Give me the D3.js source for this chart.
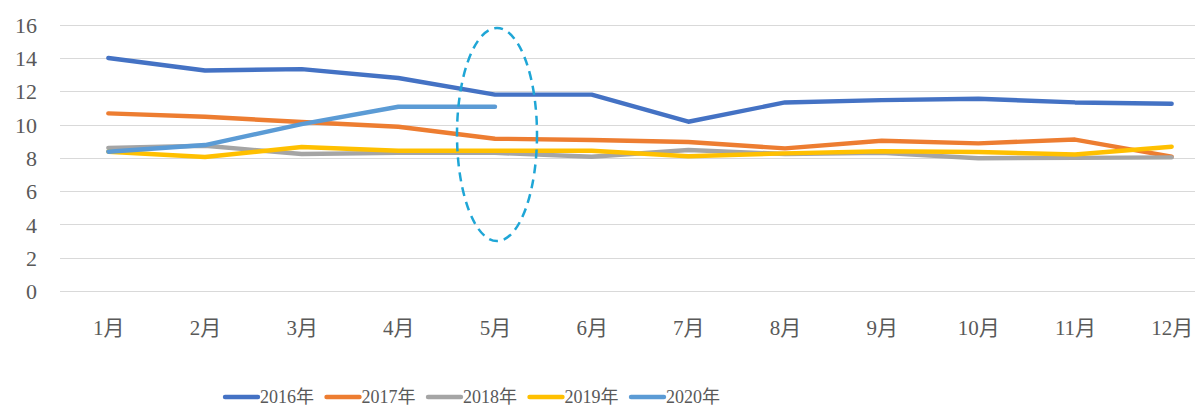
<!DOCTYPE html>
<html>
<head>
<meta charset="utf-8">
<script src="https://cdn.jsdelivr.net/npm/d3@7"></script>
<style>
  body { margin: 0; background: #fff; }
  svg { display: block; }
  text { font-family: "Liberation Serif", "Noto Sans CJK SC", serif; fill: #595959; }
</style>
</head>
<body>
<svg id="chart" width="1195" height="407"></svg>
<script>
// months on the x axis
var months = ["1月", "2月", "3月", "4月", "5月", "6月", "7月", "8月", "9月", "10月", "11月", "12月"];
var yTicks = [0, 2, 4, 6, 8, 10, 12, 14, 16];

// series values
var y2016 = [14.0, 13.25, 13.33, 12.8, 11.8, 11.8, 10.17, 11.33, 11.47, 11.55, 11.33, 11.25];
var y2017 = [10.67, 10.47, 10.15, 9.87, 9.15, 9.07, 8.95, 8.57, 9.03, 8.87, 9.1, 8.07];
var y2018 = [8.6, 8.73, 8.23, 8.3, 8.3, 8.07, 8.47, 8.23, 8.3, 7.98, 8.0, 8.03];
var y2019 = [8.37, 8.05, 8.65, 8.43, 8.43, 8.43, 8.1, 8.27, 8.4, 8.35, 8.2, 8.67];
var y2020 = [8.37, 8.77, 10.03, 11.07, 11.07];

var seriesNames = ["2016年", "2017年", "2018年", "2019年", "2020年"];
var seriesValues = [y2016, y2017, y2018, y2019, y2020];
var colors = ["#4472C4", "#ED7D31", "#A5A5A5", "#FFC000", "#5B9BD5"];

var svg = d3.select("#chart");

var x = d3.scalePoint()
	.domain(months)
	.range([60, 1220])
	.padding(0.5);

var y = d3.scaleLinear()
	.domain([0, 16])
	.range([291, 24.7]);

// horizontal gridlines
svg.append("g").selectAll("line")
	.data(yTicks)
	.enter().append("line")
	.attr("x1", 60)
	.attr("x2", 1195)
	.attr("y1", function(d) { return Math.round(y(d)) + 0.5; })
	.attr("y2", function(d) { return Math.round(y(d)) + 0.5; })
	.attr("stroke", "#D9D9D9")
	.attr("stroke-width", 1);

// y axis labels
var yAxis = d3.axisLeft(y).tickValues(yTicks).tickSize(0).tickPadding(0);
var yg = svg.append("g").attr("transform", "translate(37,0)").call(yAxis);
yg.select(".domain").remove();
yg.selectAll("text")
	.attr("font-size", 22)
	.attr("dy", "0.35em")
	.style("font-family", '"Liberation Serif", serif')
	.attr("fill", "#595959");

// x axis labels
var xAxis = d3.axisBottom(x).tickSize(0).tickPadding(0);
var xg = svg.append("g").attr("transform", "translate(0,318)").call(xAxis);
xg.select(".domain").remove();
xg.selectAll("text")
	.attr("font-size", 21)
	.attr("dy", "0.8em")
	.style("font-family", '"Liberation Serif", "Noto Sans CJK SC", serif')
	.attr("fill", "#595959");

// series lines
var line = d3.line()
	.x(function(d, i) { return x(months[i]); })
	.y(function(d) { return y(d); });

seriesValues.forEach(function(vals, k) {
	svg.append("path")
		.datum(vals)
		.attr("d", line)
		.attr("fill", "none")
		.attr("stroke", colors[k])
		.attr("stroke-width", 4.4)
		.attr("stroke-linejoin", "round")
		.attr("stroke-linecap", "round");
});

// dashed ellipse round May
svg.append("ellipse")
	.attr("cx", x("5月") + 2)
	.attr("cy", (y(15.8) + y(3.0)) / 2)
	.attr("rx", 40)
	.attr("ry", (y(3.0) - y(15.8)) / 2)
	.attr("fill", "none")
	.attr("stroke", "#1FA6D6")
	.attr("stroke-width", 2.5)
	.attr("stroke-dasharray", "9,6");

// legend
var legend = svg.append("g");
seriesNames.forEach(function(name, k) {
	var lx = 225 + k * 101.5;
	legend.append("line")
		.attr("x1", lx)
		.attr("x2", lx + 33)
		.attr("y1", 397)
		.attr("y2", 397)
		.attr("stroke", colors[k])
		.attr("stroke-width", 4.4)
		.attr("stroke-linecap", "round");
	legend.append("text")
		.attr("x", lx + 35)
		.attr("y", 403)
		.attr("font-size", 18)
		.text(name);
});
</script>
</body>
</html>
